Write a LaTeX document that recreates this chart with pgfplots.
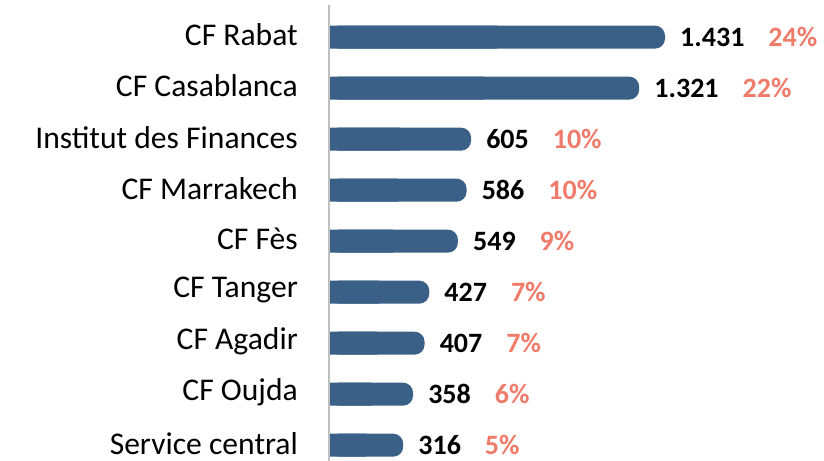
\documentclass[border=0pt]{standalone}
\usepackage{pgfplots}
\pgfplotsset{compat=1.18}
\usepackage{pgfplotstable}
\usepackage{fontspec}
\setmainfont{Carlito}
\definecolor{barblue}{HTML}{3B6087}
\definecolor{pct}{HTML}{EF7B6A}
\definecolor{axgray}{HTML}{BFBFBF}
\pgfplotstableread{
y v lab pct
8 1431 1.431 24
7 1321 1.321 22
6 605 605 10
5 586 586 10
4 549 549 9
3 427 427 7
2 407 407 7
1 358 358 6
0 316 316 5
}\data
\begin{document}
\begin{tikzpicture}
\begin{axis}[
  at={(0,0)}, anchor=south west,
  scale only axis, width=495bp, height=456bp,
  xmin=0, xmax=2108, ymin=-0.31, ymax=8.63,
  axis x line=none, axis y line*=left,
  y axis line style={axgray, line width=1.8bp, -},
  ytick={0,...,8},
  yticklabels={Service central, CF Oujda, CF Agadir, CF Tanger, CF Fès, CF Marrakech, Institut des Finances, CF Casablanca, CF Rabat},
  major tick length=0pt,
  yticklabel style={font=\fontsize{31.6bp}{36bp}\selectfont, inner sep=0pt, xshift=-31bp, yshift=2bp},
  xbar, bar width=23bp,
  clip=false, axis on top,
]
\addplot[draw=none, fill=barblue, bar shift=0pt, rounded corners=10bp,
  point meta=explicit symbolic,
  visualization depends on={\thisrow{pct} \as \pct},
  nodes near coords={\pgfmathtruncatemacro\p{\pct}\textbf{\pgfplotspointmeta}\hspace{24bp}\textcolor{pct}{\textbf{\p\%}}},
  nodes near coords style={anchor=west, inner sep=0pt, xshift=15bp, font=\fontsize{28bp}{32bp}\selectfont, text=black}]
  table[x=v, y=y, meta=lab] {\data};
\addplot[draw=none, fill=barblue, bar shift=0pt] table[x expr=\thisrow{v}*0.5, y=y] {\data};
\end{axis}
\pgfresetboundingbox
\path (-329bp,0) rectangle (495bp,461bp);
\end{tikzpicture}
\end{document}
